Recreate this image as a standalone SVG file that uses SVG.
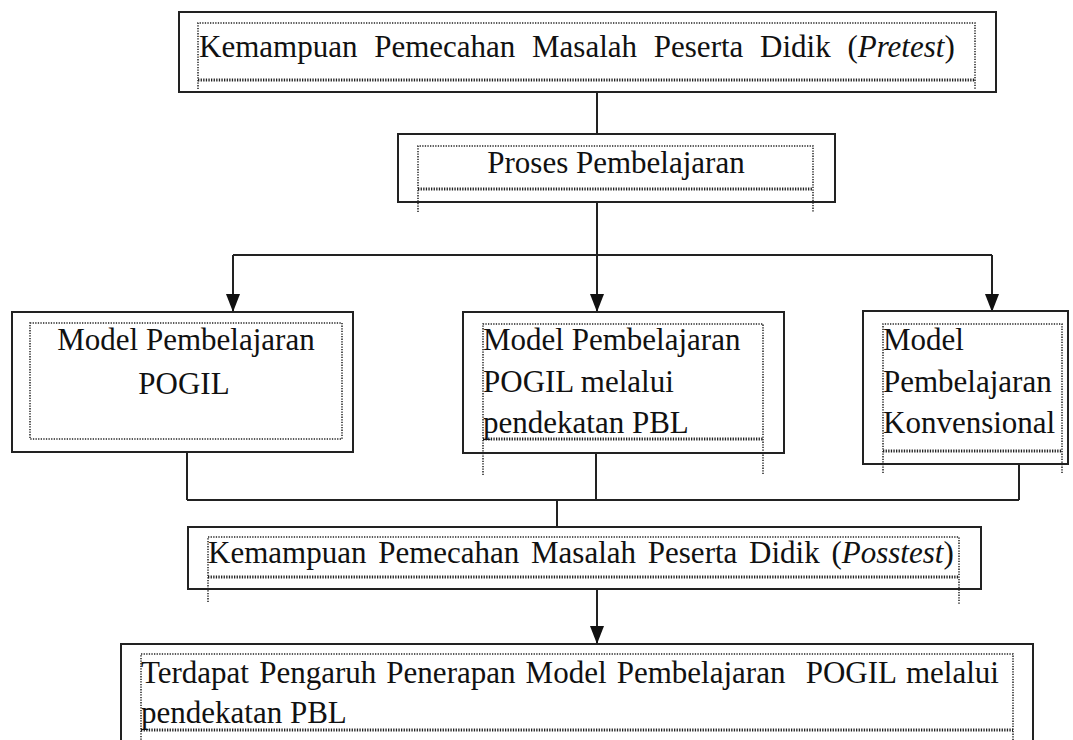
<svg xmlns="http://www.w3.org/2000/svg" width="1073" height="740" viewBox="0 0 1073 740">
<defs>
<style>
.box{fill:#fff;stroke:#222;stroke-width:2}
.dot{fill:none;stroke:#222;stroke-width:1.5;stroke-dasharray:1.3 1.3}
.dot2{fill:none;stroke:#222;stroke-width:2.8;stroke-dasharray:1.3 1.3}
.c{fill:none;stroke:#222;stroke-width:2}
text{font-family:"Liberation Serif","Times New Roman",serif;font-size:31px;fill:#111}
</style>
<marker id="arr" markerUnits="userSpaceOnUse" markerWidth="18" markerHeight="14" refX="18" refY="7" orient="auto">
<path d="M0,0 L18,7 L0,14 z" fill="#111"/>
</marker>
</defs>
<rect width="1073" height="740" fill="#fff"/>

<g id="connectors">
<line class="c" x1="597" y1="92" x2="597" y2="133"/>
<line class="c" x1="597" y1="202" x2="597" y2="255"/>
<line class="c" x1="233" y1="255" x2="992" y2="255"/>
<line class="c" x1="233" y1="255" x2="233" y2="312" marker-end="url(#arr)"/>
<line class="c" x1="597" y1="255" x2="597" y2="312" marker-end="url(#arr)"/>
<line class="c" x1="992" y1="255" x2="992" y2="312" marker-end="url(#arr)"/>
<line class="c" x1="187" y1="452" x2="187" y2="500"/>
<line class="c" x1="596" y1="453" x2="596" y2="500"/>
<line class="c" x1="1019" y1="464" x2="1019" y2="500"/>
<line class="c" x1="187" y1="500" x2="1019" y2="500"/>
<line class="c" x1="557" y1="500" x2="557" y2="527"/>
<line class="c" x1="597" y1="589" x2="597" y2="644" marker-end="url(#arr)"/>
</g>

<g id="pretest">
<rect class="box" x="179" y="12" width="817" height="80"/>
<path class="dot" d="M198,89 V23 H975 V89"/>
<line class="dot2" x1="198" y1="80" x2="975" y2="80"/>
<text x="199" y="57" word-spacing="9">Kemampuan Pemecahan Masalah Peserta Didik (<tspan font-style="italic">Pretest</tspan>)</text>
</g>

<g id="proses">
<rect class="box" x="398" y="134" width="437" height="68"/>
<path class="dot" d="M418,212 V146 H813 V212"/>
<line class="dot2" x1="418" y1="189" x2="813" y2="189"/>
<text x="616" y="173" text-anchor="middle">Proses Pembelajaran</text>
</g>

<g id="pogil">
<rect class="box" x="12" y="312" width="341" height="140"/>
<rect class="dot" x="30" y="323" width="312" height="116"/>
<text x="186" y="350" text-anchor="middle">Model Pembelajaran</text>
<text x="184" y="394" text-anchor="middle">POGIL</text>
</g>

<g id="pogil-pbl">
<rect class="box" x="463" y="312" width="321" height="141"/>
<path class="dot" d="M483,475 V324 H763 V475"/>
<line class="dot2" x1="483" y1="439" x2="763" y2="439"/>
<text x="483" y="350">Model Pembelajaran</text>
<text x="483" y="392">POGIL melalui</text>
<text x="483" y="433">pendekatan PBL</text>
</g>

<g id="konvensional">
<rect class="box" x="863" y="311" width="205" height="153"/>
<path class="dot" d="M883,473 V324 H1062 V473"/>
<line class="dot2" x1="883" y1="451" x2="1062" y2="451"/>
<text x="883" y="350">Model</text>
<text x="883" y="392">Pembelajaran</text>
<text x="883" y="433">Konvensional</text>
</g>

<g id="posttest">
<rect class="box" x="188" y="527" width="793" height="62"/>
<path class="dot" d="M208,602 V537 H959 V605"/>
<line class="dot2" x1="208" y1="577" x2="959" y2="577"/>
<text x="208" y="563" word-spacing="4">Kemampuan Pemecahan Masalah Peserta Didik (<tspan font-style="italic">Posstest</tspan>)</text>
</g>

<g id="hasil">
<rect class="box" x="121" y="644" width="912" height="110"/>
<path class="dot" d="M141,745 V654 H1013 V745"/>
<line class="dot2" x1="141" y1="730" x2="1013" y2="730"/>
<text x="141" y="683" word-spacing="2.4" xml:space="preserve">Terdapat Pengaruh Penerapan Model Pembelajaran  POGIL melalui</text>
<text x="141" y="723">pendekatan PBL</text>
</g>
</svg>
